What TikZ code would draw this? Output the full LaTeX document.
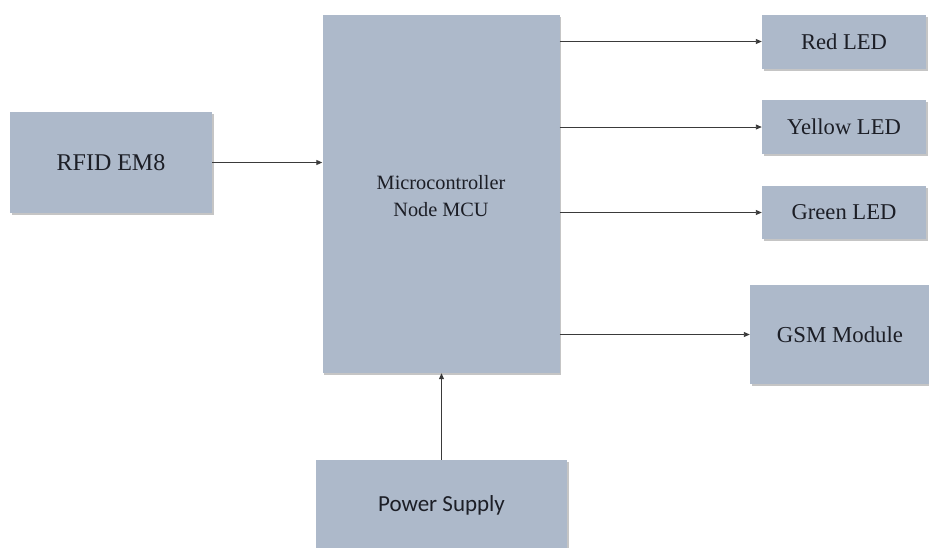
\documentclass[tikz,border=0pt]{standalone}
\usepackage{fontspec}
\setmainfont{Liberation Serif}
\newfontfamily\calibrifont{Carlito}
\usetikzlibrary{arrows.meta,shadows}

\definecolor{blockfill}{HTML}{ADB9CA}
\definecolor{blocktext}{HTML}{1C1E26}
\definecolor{wire}{HTML}{3A3A3A}

\begin{document}
\begin{tikzpicture}[
x=1pt,y=-1pt,
block/.style={
rectangle,fill=blockfill,draw=none,
text=blocktext,align=center,
font=\fontsize{22.6}{27}\selectfont,
drop shadow={shadow xshift=1.5pt,shadow yshift=-2pt,fill=black!45,opacity=.5}
},
arrow/.style={-{Triangle[length=6pt,width=5pt]},line width=0.9pt,draw=wire}
]
\useasboundingbox (0,0) rectangle (929,547);
\clip (0,0) rectangle (929,547);

% =======================
% INPUT
% =======================

\node[block,minimum width=202,minimum height=101,
font=\fontsize{24}{28}\selectfont] (rfid) at (111,162.5)
{RFID EM8};

% =======================
% CONTROLLER
% =======================

\node[block,minimum width=237,minimum height=358,
font=\fontsize{20.3}{27}\selectfont] (mcu) at (441,194)
{\\[-8pt]Microcontroller\\Node MCU};

% =======================
% OUTPUTS
% =======================

\node[block,minimum width=164,minimum height=54] (red) at (844,41.5)
{Red LED};

\node[block,minimum width=164,minimum height=54] (yellow) at (844,127)
{Yellow LED};

\node[block,minimum width=164,minimum height=53] (green) at (844,212.5)
{Green LED};

\node[block,minimum width=180,minimum height=99,
font=\fontsize{22.8}{27}\selectfont] (gsm) at (840,334.5)
{GSM Module};

% =======================
% SUPPLY
% =======================

\node[block,minimum width=251,minimum height=90,
font=\calibrifont\fontsize{23}{27}\selectfont] (power) at (441.5,505)
{Power Supply};

% =======================
% ARROWS
% =======================

\draw[arrow] (rfid.east) -- (rfid.east -| mcu.west);
\draw[arrow] (mcu.east |- red.west) -- (red.west);
\draw[arrow] (mcu.east |- yellow.west) -- (yellow.west);
\draw[arrow] (mcu.east |- green.west) -- (green.west);
\draw[arrow] (mcu.east |- gsm.west) -- (gsm.west);
\draw[arrow] (power.north) -- (power.north |- mcu.south);

\end{tikzpicture}
\end{document}
